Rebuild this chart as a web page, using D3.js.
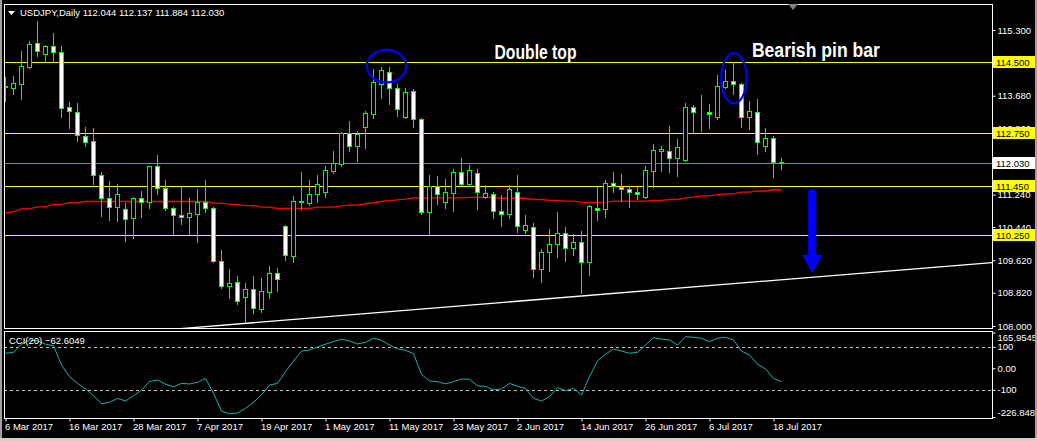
<!DOCTYPE html>
<html><head><meta charset="utf-8">
<script src="https://cdn.jsdelivr.net/npm/d3@7"></script>
<style>html,body{margin:0;padding:0;background:#000;overflow:hidden}</style>
</head><body><svg id="c" width="1037" height="441"></svg>
<script>
const symbol = "USDJPY", period = "Daily";
const dates = ["2017-03-06","2017-03-07","2017-03-08","2017-03-09","2017-03-10","2017-03-13","2017-03-14","2017-03-15","2017-03-16","2017-03-17",
"2017-03-20","2017-03-21","2017-03-22","2017-03-23","2017-03-24","2017-03-27","2017-03-28","2017-03-29","2017-03-30","2017-03-31",
"2017-04-03","2017-04-04","2017-04-05","2017-04-06","2017-04-07","2017-04-10","2017-04-11","2017-04-12","2017-04-13","2017-04-14",
"2017-04-17","2017-04-18","2017-04-19","2017-04-20","2017-04-21","2017-04-24","2017-04-25","2017-04-26","2017-04-27","2017-04-28",
"2017-05-01","2017-05-02","2017-05-03","2017-05-04","2017-05-05","2017-05-08","2017-05-09","2017-05-10","2017-05-11","2017-05-12",
"2017-05-15","2017-05-16","2017-05-17","2017-05-18","2017-05-19","2017-05-22","2017-05-23","2017-05-24","2017-05-25","2017-05-26",
"2017-05-29","2017-05-30","2017-05-31","2017-06-01","2017-06-02","2017-06-05","2017-06-06","2017-06-07","2017-06-08","2017-06-09",
"2017-06-12","2017-06-13","2017-06-14","2017-06-15","2017-06-16","2017-06-19","2017-06-20","2017-06-21","2017-06-22","2017-06-23",
"2017-06-26","2017-06-27","2017-06-28","2017-06-29","2017-06-30","2017-07-03","2017-07-04","2017-07-05","2017-07-06","2017-07-07",
"2017-07-10","2017-07-11","2017-07-12","2017-07-13","2017-07-14","2017-07-17","2017-07-18","2017-07-19"];
const open = [113.89,113.88,113.98,114.39,114.97,114.70,114.90,114.75,113.39,113.29,
112.68,112.56,111.72,111.15,110.93,110.89,110.66,111.15,111.05,111.94,
111.40,110.91,110.74,110.70,110.77,111.07,110.90,109.60,108.99,109.09,
108.72,108.91,108.41,108.83,109.30,110.47,109.73,111.05,111.04,111.25,
111.31,111.83,111.99,112.75,112.45,112.92,113.24,113.96,114.26,113.86,
113.16,113.80,113.10,110.80,111.46,111.05,111.27,111.79,111.49,111.77,
111.17,111.25,110.84,110.75,111.31,110.36,110.45,109.40,109.82,110.01,
110.30,109.92,110.06,109.57,110.92,110.89,111.52,111.44,111.37,111.30,
111.19,111.83,112.32,112.32,112.15,112.09,113.41,113.27,113.28,113.16,
113.90,114.03,113.97,113.16,113.27,112.45,112.63,112.044];
const high = [114.15,114.17,114.78,115.03,115.52,114.92,115.23,114.91,113.53,113.51,
112.90,112.88,111.79,111.58,111.50,111.03,111.19,111.34,111.95,112.22,
111.60,110.94,111.44,111.15,111.37,111.60,110.94,109.87,109.40,109.23,
109.05,109.23,109.18,109.48,109.42,110.49,111.21,111.81,111.60,111.72,
111.95,112.32,112.79,113.06,112.81,113.30,114.34,114.38,114.38,113.97,
113.86,113.84,113.12,111.72,111.69,111.63,111.87,112.14,111.97,111.87,
111.47,111.31,111.23,111.48,111.72,110.74,110.53,109.90,110.39,110.80,
110.45,110.26,110.34,110.98,111.44,111.60,111.79,111.74,111.45,111.44,
111.94,112.48,112.44,112.93,112.61,113.49,113.45,113.70,113.47,114.19,
114.31,114.50,113.99,113.55,113.60,112.88,112.69,112.137];
const low = [113.55,113.72,113.60,114.36,114.67,114.50,114.50,113.16,112.89,112.56,
112.45,111.50,110.72,110.61,110.60,110.10,110.18,110.70,110.92,111.25,
110.86,110.24,110.52,110.27,110.08,110.80,109.59,108.94,108.70,108.54,
108.11,108.31,108.35,108.70,108.87,109.63,109.59,110.89,110.98,111.07,
111.19,111.78,111.95,112.32,112.08,112.40,113.14,113.63,113.47,113.19,
113.14,112.92,110.76,110.24,111.01,110.92,110.84,111.48,111.48,110.88,
111.15,110.66,110.47,110.67,110.33,110.30,109.22,109.09,109.36,109.69,
109.61,109.75,108.81,109.27,110.61,110.70,111.31,111.08,110.94,111.13,
111.15,111.44,111.83,111.81,111.71,112.07,112.75,112.81,112.89,113.10,
113.88,113.72,112.92,112.86,112.24,112.32,111.68,111.884];
const close = [113.91,113.99,114.40,114.95,114.79,114.90,114.75,113.37,113.31,112.71,
112.55,111.72,111.15,110.93,111.25,110.65,111.15,111.07,111.94,111.40,
110.90,110.73,110.68,110.78,111.07,110.90,109.60,108.99,109.07,108.61,
108.91,108.44,108.86,109.30,109.15,109.75,111.08,111.08,111.25,111.49,
111.85,112.01,112.75,112.45,112.73,113.25,114.01,114.31,113.86,113.34,
113.78,113.10,110.80,111.46,111.25,111.30,111.79,111.49,111.85,111.30,
111.27,110.84,110.75,111.38,110.47,110.49,109.41,109.82,110.01,110.30,
109.92,110.06,109.57,110.95,110.86,111.52,111.45,111.37,111.30,111.26,
111.85,112.34,112.37,112.15,112.41,113.39,113.28,113.28,113.22,113.92,
114.04,113.96,113.16,113.30,112.53,112.63,112.04,112.030];
const maValues = [110.79,110.82,110.89,110.89,110.94,110.94,111.00,111.00,111.04,111.04,
111.07,111.07,111.07,111.07,111.07,111.07,111.07,111.07,111.07,111.07,
111.07,111.07,111.07,111.07,111.07,111.07,111.03,111.03,111.00,111.00,
110.97,110.97,110.93,110.93,110.90,110.90,110.90,110.90,110.90,110.93,
110.93,110.93,110.96,110.98,110.98,111.01,111.04,111.07,111.09,111.11,
111.13,111.16,111.16,111.16,111.16,111.16,111.16,111.16,111.17,111.17,
111.17,111.17,111.15,111.15,111.15,111.15,111.12,111.12,111.10,111.10,
111.08,111.08,111.05,111.05,111.05,111.05,111.08,111.08,111.08,111.08,
111.08,111.10,111.10,111.12,111.12,111.16,111.18,111.21,111.21,111.24,
111.26,111.26,111.30,111.30,111.33,111.33,111.36,111.36];
const cciValues = [70,74,112,131,127,112,105,15,-39,-70,
-96,-127,-165,-158,-140,-152,-127,-101,-62,-54,
-74,-86,-70,-73,-65,-47,-116,-199,-211,-208,
-186,-158,-124,-78,-70,-16,34,80,85,99,
112,124,135,127,113,121,140,130,108,90,
84,68,-28,-59,-62,-72,-62,-50,-51,-81,
-84,-101,-96,-70,-84,-93,-140,-152,-132,-90,
-104,-93,-124,-39,34,65,90,80,70,74,
108,142,136,132,108,147,144,140,124,140,
144,132,80,62,19,-3,-47,-62.6049];
const cciName = "CCI(20)";
const cciLevels = [100, -100];
const cciTicks = [165.9545, 100, 0, -100, -226.8485];
const cciTickLabels = ["165.9545", "100", "0.00", "-100", "-226.8485"];
const priceTicks = [115.30, 114.49, 113.68, 112.86, 112.05, 111.24, 110.44, 109.62, 108.82, 108.00];
const levelLines = [114.500, 112.750, 111.450, 110.250];
const dateTickLabels = ["6 Mar 2017","16 Mar 2017","28 Mar 2017","7 Apr 2017","19 Apr 2017","1 May 2017","11 May 2017","23 May 2017","2 Jun 2017","14 Jun 2017","26 Jun 2017","6 Jul 2017","18 Jul 2017"];
const trendAnchors = [{bar: 30, price: 108.065}, {bar: 72, price: 108.74}];
const ellipses = [{bar: 47.63, price: 114.41, rBars: 2.46, rPrice: 0.40}, {bar: 91.05, price: 114.11, rBars: 1.59, rPrice: 0.62}];
const labels = [{text: "Double top", bar: 61.13, price: 114.585, len: 82}, {text: "Bearish pin bar", bar: 93.3, price: 114.63, len: 128}];
const arrow = {bar: 100.84, top: 111.35, tip: 109.31};

const W = 1037, H = 441;
const svg = d3.select("#c");
const font = "'Liberation Sans', Arial, sans-serif";
const M = {left: 4, right: 992, top: 4, bottom: 328};
const C = {top: 331, bottom: 418};

svg.append("rect").attr("width", W).attr("height", H).attr("fill", "#000");

const x = d3.scaleLinear().domain([0, 97]).range([5.5, 781.5]);
const y = d3.scaleLinear().domain([108, 115.3]).range([326, 30]);
const yc = d3.scaleLinear().domain([-226.8485, 165.9545]).range([417.1, 332.6]);
const px = v => Math.round(v) + 0.5;

const defs = svg.append("defs");
defs.append("clipPath").attr("id", "mclip").append("rect")
  .attr("x", M.left + 1).attr("y", M.top + 1).attr("width", M.right - M.left - 1).attr("height", M.bottom - M.top - 1);
defs.append("clipPath").attr("id", "cclip").append("rect")
  .attr("x", M.left + 1).attr("y", C.top + 1).attr("width", M.right - M.left - 1).attr("height", C.bottom - C.top - 1);

const main = svg.append("g").attr("clip-path", "url(#mclip)");
const idx = d3.range(dates.length);

// level lines
main.selectAll(".lvl").data(levelLines).join("line")
  .attr("x1", M.left).attr("x2", M.right).attr("y1", d => px(y(d))).attr("y2", d => px(y(d)))
  .attr("stroke", "#ffff00").attr("stroke-width", 1);
// bid line
const bid = close[close.length - 1];
main.append("line").attr("x1", M.left).attr("x2", M.right).attr("y1", px(y(bid))).attr("y2", px(y(bid)))
  .attr("stroke", "#778899").attr("stroke-width", 1);

// trend line
const slope = (trendAnchors[1].price - trendAnchors[0].price) / (trendAnchors[1].bar - trendAnchors[0].bar);
const tb0 = x.invert(M.left), tb1 = x.invert(M.right);
main.append("line")
  .attr("x1", x(tb0)).attr("y1", y(trendAnchors[0].price + slope * (tb0 - trendAnchors[0].bar)))
  .attr("x2", x(tb1)).attr("y2", y(trendAnchors[0].price + slope * (tb1 - trendAnchors[0].bar)))
  .attr("stroke", "#ffffff").attr("stroke-width", 1.3);

// MA line
main.append("path").datum(idx)
  .attr("d", d3.line().x(i => x(i)).y(i => y(maValues[i])).curve(d3.curveLinear))
  .attr("fill", "none").attr("stroke", "#ff0000").attr("stroke-width", 1.3);

// candles
const cg = main.append("g");
cg.selectAll(".wick").data(idx).join("line")
  .attr("x1", i => x(i)).attr("x2", i => x(i))
  .attr("y1", i => Math.round(y(high[i]))).attr("y2", i => Math.round(y(low[i])) + 1)
  .attr("stroke", "#00ff00").attr("stroke-width", 1);
cg.selectAll(".body").data(idx).join("rect")
  .attr("x", i => x(i) - 2)
  .attr("y", i => px(y(Math.max(open[i], close[i]))))
  .attr("width", 4)
  .attr("height", i => Math.max(0, Math.round(y(Math.min(open[i], close[i]))) - Math.round(y(Math.max(open[i], close[i])))))
  .attr("fill", i => close[i] < open[i] ? "#ffffff" : "#000000")
  .attr("stroke", "#00ff00").attr("stroke-width", 1);

// annotations
main.selectAll(".ell").data(ellipses).join("ellipse")
  .attr("cx", d => x(d.bar)).attr("cy", d => y(d.price))
  .attr("rx", d => x(d.bar + d.rBars) - x(d.bar)).attr("ry", d => y(d.price - d.rPrice) - y(d.price))
  .attr("fill", "none").attr("stroke", "#0000ff").attr("stroke-width", 2.2);
main.selectAll(".lbl").data(labels).join("text")
  .attr("x", d => x(d.bar)).attr("y", d => y(d.price))
  .attr("textLength", d => d.len).attr("lengthAdjust", "spacingAndGlyphs")
  .attr("font-family", font).attr("font-weight", "bold").attr("font-size", 20)
  .attr("fill", "#ffffff").text(d => d.text);
// arrow
const ax = x(arrow.bar), ay0 = y(arrow.top), ay1 = y(arrow.tip);
main.append("line").attr("x1", ax).attr("x2", ax).attr("y1", ay0 + 3).attr("y2", ay1 - 14)
  .attr("stroke", "#0000ff").attr("stroke-width", 8).attr("stroke-linecap", "round");
main.append("path").attr("d", `M${ax - 10},${ay1 - 18}L${ax + 10},${ay1 - 18}L${ax},${ay1}Z`)
  .attr("fill", "#0000ff");

// main frame
svg.append("rect").attr("x", M.left + 0.5).attr("y", M.top + 0.5).attr("width", M.right - M.left).attr("height", M.bottom - M.top)
  .attr("fill", "none").attr("stroke", "#ffffff").attr("stroke-width", 1);

// header
svg.append("path").attr("d", "M8,11L15,11L11.5,15Z").attr("fill", "#ffffff");
svg.append("text").attr("x", 20).attr("y", 16).attr("font-family", font).attr("font-size", 9.5).attr("fill", "#ffffff")
  .text(`${symbol},${period}  ${d3.format(".3f")(open[97])} ${d3.format(".3f")(high[97])} ${d3.format(".3f")(low[97])} ${d3.format(".3f")(close[97])}`);
svg.append("path").attr("d", "M788,4L798,4L793,10Z").attr("fill", "#808080");

// price axis
const pAxis = svg.append("g").attr("transform", `translate(${M.right + 0.5},0)`)
  .call(d3.axisRight(y).tickValues(priceTicks).tickFormat(d3.format(".3f")).tickSize(3).tickPadding(2));
pAxis.select(".domain").remove();
pAxis.selectAll("line").attr("stroke", "#ffffff");
pAxis.selectAll("text").attr("fill", "#ffffff").attr("font-family", font).attr("font-size", 9.5);

// level labels
const lab = svg.append("g");
function priceBox(v, bg) {
  const yy = Math.round(y(v));
  lab.append("rect").attr("x", 993).attr("y", yy - 6).attr("width", 42).attr("height", 12).attr("fill", bg);
  lab.append("text").attr("x", 996).attr("y", yy + 3.5).attr("font-family", font).attr("font-size", 9.5)
    .attr("fill", "#000").text(d3.format(".3f")(v));
}
levelLines.forEach(v => priceBox(v, "#ffff00"));
priceBox(bid, "#ffffff");

// CCI panel
const cp = svg.append("g").attr("clip-path", "url(#cclip)");
cp.selectAll(".clev").data(cciLevels).join("line")
  .attr("x1", M.left).attr("x2", M.right).attr("y1", d => px(yc(d))).attr("y2", d => px(yc(d)))
  .attr("stroke", "#c0c0c0").attr("stroke-dasharray", "3,3");
cp.append("path").datum(idx)
  .attr("d", d3.line().x(i => x(i)).y(i => yc(cciValues[i])))
  .attr("fill", "none").attr("stroke", "#20b2aa").attr("stroke-width", 1);
svg.append("rect").attr("x", M.left + 0.5).attr("y", C.top + 0.5).attr("width", M.right - M.left).attr("height", C.bottom - C.top)
  .attr("fill", "none").attr("stroke", "#ffffff");
svg.append("text").attr("x", 9).attr("y", 343.5).attr("font-family", font).attr("font-size", 9.5).attr("fill", "#ffffff")
  .text(`${cciName} ${d3.format(".4f")(cciValues[97])}`);
const cAxis = svg.append("g").attr("transform", `translate(${M.right + 0.5},0)`)
  .call(d3.axisRight(yc).tickValues(cciTicks).tickFormat((d, i) => cciTickLabels[i]).tickSize(3).tickPadding(2));
cAxis.select(".domain").remove();
cAxis.selectAll("line").attr("stroke", "#ffffff");
cAxis.selectAll("text").attr("fill", "#ffffff").attr("font-family", font).attr("font-size", 9.5)
  .attr("dy", (d, i) => i === 0 ? "0.85em" : (i === cciTicks.length - 1 ? "-0.2em" : "0.32em"));

// date axis
const tickIdx = dateTickLabels.map(s => {
  const dt = d3.timeParse("%d %b %Y")(s);
  return dates.indexOf(d3.timeFormat("%Y-%m-%d")(dt));
});
const dAxis = svg.append("g").attr("transform", `translate(0,${C.bottom + 0.5})`)
  .call(d3.axisBottom(x).tickValues(tickIdx).tickFormat((d, i) => dateTickLabels[i]).tickSize(3).tickPadding(2));
dAxis.select(".domain").remove();
dAxis.selectAll("line").attr("stroke", "#ffffff");
dAxis.selectAll("text").attr("fill", "#ffffff").attr("font-family", font).attr("font-size", 9.5)
  .attr("text-anchor", "start").attr("x", -1);

// window borders
svg.append("rect").attr("x", 0).attr("y", 0).attr("width", 2).attr("height", H).attr("fill", "#a0a0a0");
svg.append("rect").attr("x", 1035).attr("y", 0).attr("width", 2).attr("height", H).attr("fill", "#a0a0a0");
svg.append("rect").attr("x", 0).attr("y", 438).attr("width", W).attr("height", 3).attr("fill", "#d4d0c8");
</script></body></html>
